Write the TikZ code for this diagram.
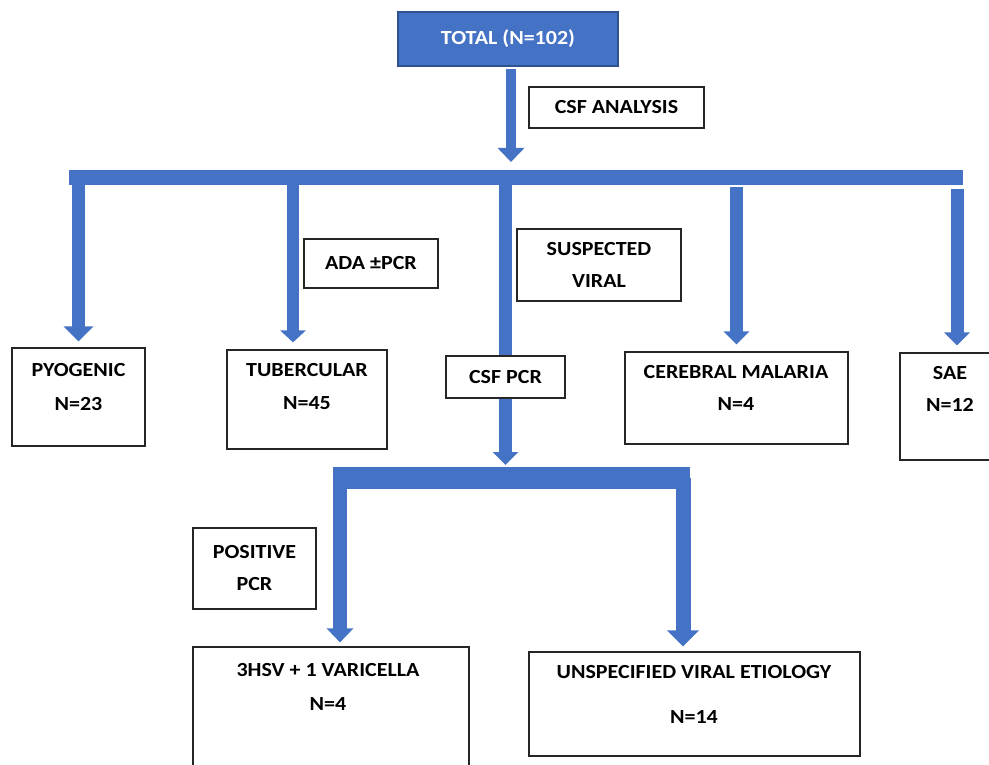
\documentclass[tikz,border=0pt]{standalone}
\usepackage{fontspec}
\setmainfont{Carlito}[FakeStretch = 1.1]
\usetikzlibrary{arrows.meta, backgrounds}
\definecolor{flowblue}{HTML}{4472C4}
\definecolor{flowedge}{HTML}{2F528F}

\begin{document}
\begin{tikzpicture}[x = 1pt, y = -1pt]
			% Frame of the page
			\clip (0, 0) rectangle (989, 765);

			% Styles for boxes, labels and block arrows
			\tikzset{box/.style = {draw = black!85, line width = 1.2pt, fill = white, rectangle, inner sep = 0pt,
					font = \fontsize{20}{24}\selectfont\bfseries, align = center}}
			\tikzset{lbl/.style = {font = \fontsize{20}{24}\selectfont\bfseries, align = center, inner sep = 0pt, anchor = north}}
			\tikzset{flow/.style = {flowblue, line width = 13pt, -{Triangle[width = 28pt, length = 14pt]}}}

			% Top box and first step
			\node[box, fill = flowblue, draw = flowedge, text = white, minimum width = 220, minimum height = 54] (total) at (508, 39) {TOTAL (N=102)};
			\node[box, minimum width = 175, minimum height = 41] (csfana) at (616.5, 107.5) {CSF ANALYSIS};

			% Result boxes of the first level
			\node[box, minimum width = 133, minimum height = 98] (pyo) at (78.5, 397) {};
			\node[box, minimum width = 160, minimum height = 99] (tub) at (307, 399.5) {};
			\node[box, minimum width = 223, minimum height = 92] (cm) at (736.5, 398) {};
			\node[box, minimum width = 100, minimum height = 107] (sae) at (950, 406.5) {};
			\node[lbl] at (78.5, 363.5) {PYOGENIC\\[10pt]N=23};
			\node[lbl] at (307, 363.5) {TUBERCULAR\\[9pt]N=45};
			\node[lbl] at (736, 365.5) {CEREBRAL MALARIA\\[8pt]N=4};
			\node[lbl] at (950, 366.5) {SAE\\[8pt]N=12};

			% Notes beside the arrows
			\node[box, minimum width = 134, minimum height = 49] (ada) at (371, 263.5) {ADA ±PCR};
			\node[box, minimum width = 164, minimum height = 72] (susp) at (599, 265) {SUSPECTED\\[8pt]VIRAL};
			\node[box, minimum width = 119, minimum height = 42] (csfpcr) at (505.5, 377) {CSF PCR};
			\node[box, minimum width = 123, minimum height = 81] (pos) at (254.5, 568.5) {POSITIVE\\[8pt]PCR};

			% Result boxes of the viral branch
			\node[box, minimum width = 276, minimum height = 133] (hsv) at (331, 713.5) {};
			\node[box, minimum width = 331, minimum height = 104] (unspec) at (694.5, 704) {};
			\node[lbl] at (328, 663.5) {3HSV + 1 VARICELLA\\[10pt]N=4};
			\node[lbl] at (694, 665.5) {UNSPECIFIED VIRAL ETIOLOGY\\[21pt]N=14};

			% Bars and arrows behind the boxes
			\begin{scope}[on background layer]
				\coordinate (busL) at (69, 177.5);
				\coordinate (busR) at (963, 177.5);
				\coordinate (hubL) at (333, 478);
				\coordinate (hubR) at (690, 478);
				\draw[flowblue, line width = 15pt] (busL) -- (busR);
				\draw[flowblue, line width = 22pt] (hubL) -- (hubR);

				\draw[flow, line width = 10pt, -{Triangle[width = 26pt, length = 14pt]}, shorten <= 2pt, shorten >= 15.5pt]
					([xshift = 3pt]total.south) -- ([xshift = 3pt]total.south |- busL);
				\draw[flow, -{Triangle[width = 29pt, length = 15pt]}, shorten >= 6pt] (pyo.north |- busL) -- (pyo.north);
				\draw[flow, line width = 12pt, -{Triangle[width = 25pt, length = 12pt]}, shorten >= 7pt]
					([xshift = -14pt]tub.north |- busL) -- ([xshift = -14pt]tub.north);
				\draw[flow, -{Triangle[width = 25pt, length = 13pt]}, shorten >= 13pt] (csfpcr.north |- busL) -- (csfpcr.north |- hubL);
				\draw[flow, -{Triangle[width = 25pt, length = 13pt]}, shorten <= 9.5pt, shorten >= 7pt] (cm.north |- busL) -- (cm.north);
				\draw[flow, -{Triangle[width = 25pt, length = 13pt]}, shorten <= 11.5pt, shorten >= 7pt]
					([xshift = 7pt]sae.north |- busL) -- ([xshift = 7pt]sae.north);
				\draw[flow, line width = 14pt, -{Triangle[width = 26pt, length = 14pt]}, shorten >= 4pt]
					([xshift = 9pt]hsv.north |- hubL) -- ([xshift = 9pt]hsv.north);
				\draw[flow, line width = 15pt, -{Triangle[width = 31pt, length = 16pt]}, shorten >= 5pt]
					([xshift = -11.5pt]unspec.north |- hubR) -- ([xshift = -11.5pt]unspec.north);
			\end{scope}
		\end{tikzpicture}
\end{document}
